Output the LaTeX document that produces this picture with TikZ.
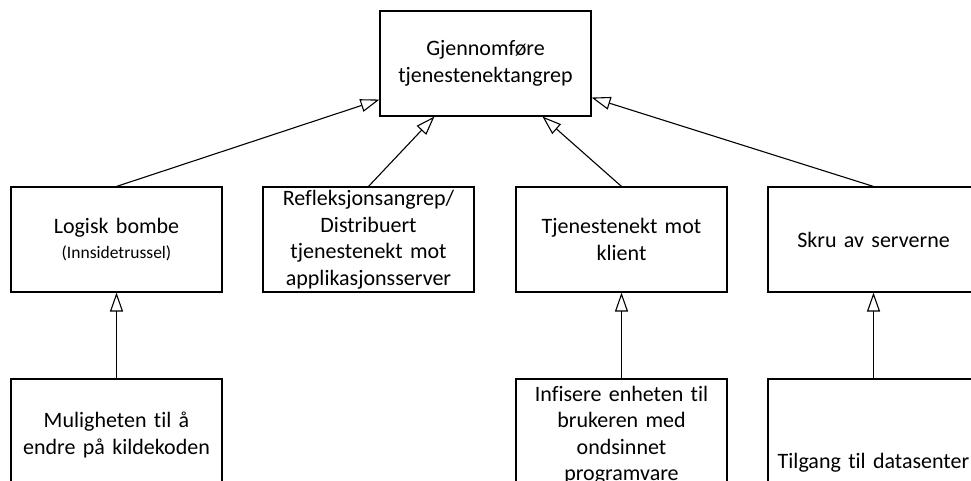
\documentclass[tikz,border=0pt]{standalone}
\usepackage{fontspec}
\setmainfont{Carlito}[Ligatures=NoCommon]
\usetikzlibrary{arrows.meta,calc}

\tikzset{
  box/.style={draw, line width=1.1pt, minimum width=211pt, minimum height=105pt,
    align=center, inner sep=3pt, text width=205pt,
    font=\fontsize{22}{26.5}\selectfont},
  tallbox/.style={box, minimum height=112pt},
  deepbox/.style={box, minimum height=168pt},
  link/.style={line width=1.1pt,
    -{Triangle[open, length=19pt, width=13pt, line width=1.1pt]}},
  small/.style={font=\fontsize{17.5}{21}\selectfont}
}

\begin{document}
\begin{tikzpicture}[x=1pt, y=-1pt]
  \useasboundingbox (0,0) rectangle (971,481);
  \clip (0,0) rectangle (971,481);

  % root goal
  \node[box] (goal) at (485.5,63.5) {Gjennomføre\\tjenestenektangrep};

  % first level of sub-goals
  \node[box] (logic) at (116.5,239.5) {Logisk bombe\\[-2pt]{\fontsize{17.5}{21}\selectfont (Innsidetrussel)}};
  \node[box] (refl)  at (368.5,239.5) {Refleksjonsangrep/\\Distribuert\\tjenestenekt mot\\applikasjonsserver};
  \node[box] (client) at (621.5,239.5) {Tjenestenekt mot\\klient};
  \node[box] (off)   at (873.5,239.5) {Skru av serverne};

  % second level
  \node[tallbox] (source) at (116.5,435) {Muligheten til å\\endre på kildekoden};
  \node[tallbox] (infect) at (621.5,435) {Infisere enheten til\\brukeren med\\ondsinnet\\programvare};
  \node[deepbox] (dc)     at (873.5,463) {Tilgang til datasenter};

  % attachment points on the root box
  \coordinate (gA) at ($(goal.south west)+(0,-17)$);
  \coordinate (gB) at ($(goal.south west)+(55,0)$);
  \coordinate (gC) at ($(goal.south west)+(163,0)$);
  \coordinate (gD) at ($(goal.south east)+(0,-19)$);

  % connectors
  \draw[link] (logic.north) -- (gA);
  \draw[link] (refl.north) -- (gB);
  \draw[link] (client.north) -- (gC);
  \draw[link] (off.north) -- (gD);

  \draw[link] (source.north) -- (logic.south);
  \draw[link] (infect.north) -- (client.south);
  \draw[link] (dc.north) -- (off.south);
\end{tikzpicture}
\end{document}
